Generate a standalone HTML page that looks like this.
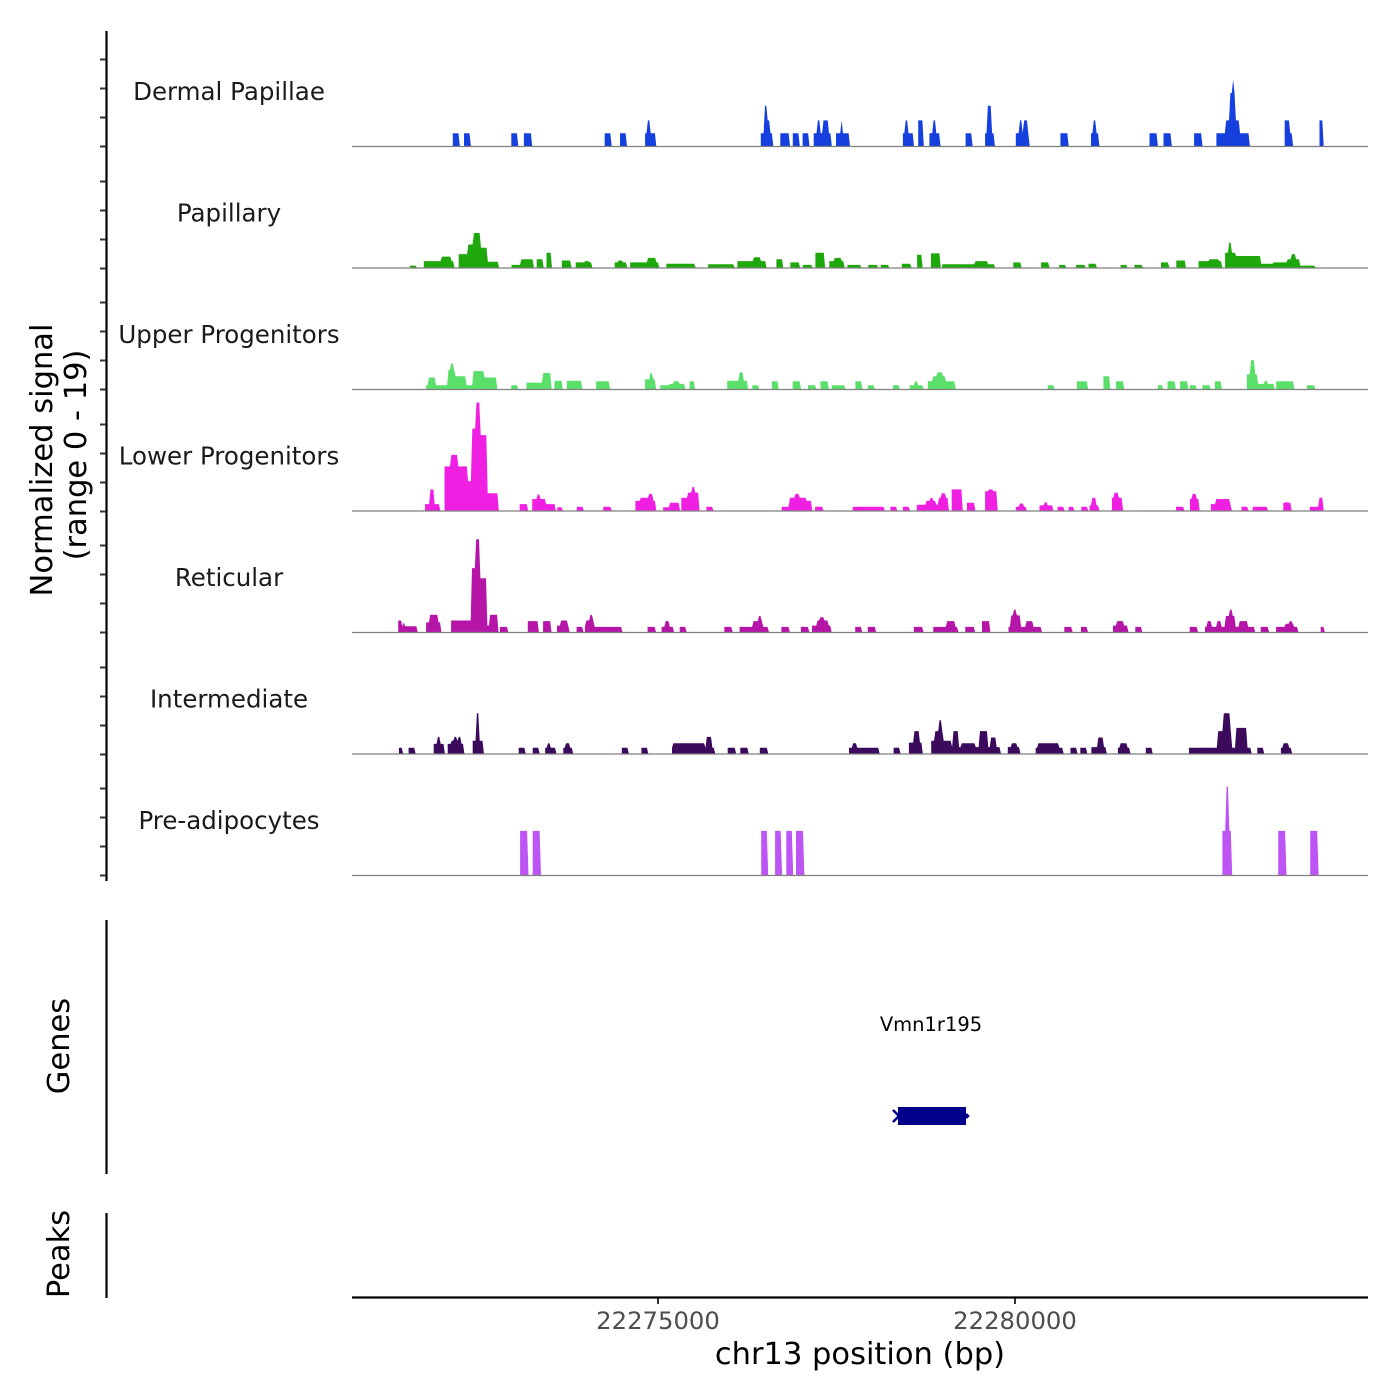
<!DOCTYPE html>
<html><head><meta charset="utf-8"><style>
html,body{margin:0;padding:0;background:#fff}
svg{display:block;font-family:"DejaVu Sans","Liberation Sans",sans-serif}
</style></head><body>
<svg id="chart" width="1400" height="1400" viewBox="0 0 1400 1400" xmlns="http://www.w3.org/2000/svg">
<g id="axes"></g>
<g id="tracks"></g>
<g id="genes">
  <text x="931" y="1031" font-size="19.5" text-anchor="middle" fill="#000">Vmn1r195</text>
  <rect x="898" y="1107" width="68" height="18" fill="#00008B"/>
  <path d="M893 1110 L899 1116 L893 1122 M966 1114 L968 1116 L966 1118" stroke="#00008B" stroke-width="2.5" fill="none"/>
</g>
<text transform="translate(52,460) rotate(-90)" font-size="30.5" text-anchor="middle" fill="#000">Normalized signal</text>
<text transform="translate(86,455) rotate(-90)" font-size="30.5" text-anchor="middle" fill="#000">(range 0 - 19)</text>
<text transform="translate(69,1046) rotate(-90)" font-size="30.5" text-anchor="middle" fill="#000">Genes</text>
<text transform="translate(69,1254) rotate(-90)" font-size="30.5" text-anchor="middle" fill="#000">Peaks</text>
<line x1="106.5" y1="920" x2="106.5" y2="1174" stroke="#000" stroke-width="2.2"/>
<line x1="106.5" y1="1213" x2="106.5" y2="1298" stroke="#000" stroke-width="2.2"/>
<line x1="352" y1="1297.5" x2="1368" y2="1297.5" stroke="#000" stroke-width="2.2"/>
<text x="860" y="1364" font-size="30.5" text-anchor="middle" fill="#000">chr13 position (bp)</text>
</svg>
<script>
// ---- data ----
const regionStart = 22270688;           // bp at bin 0
const binSizeBp = 1.9516;               // bp per coverage bin
const xTickValues = [22275000, 22280000];
const xTickLabels = ["22275000", "22280000"];
const trackNames = ["Dermal Papillae","Papillary","Upper Progenitors","Lower Progenitors","Reticular","Intermediate","Pre-adipocytes"];
const trackColors = ["#1540DD","#1FA80B","#5ADF6A","#F020E2","#B516A8","#3B0A5C","#BD55F4"];
const yTickValues = [0, 5, 10, 15];
// blocks: [startBin, endBin, signal]
const dermalPapillae = [[737,784,2],[817,863,2],[1153,1204,2],[1246,1297,2],[1820,1867,2],[1937,1983,2],[2109,2193,2],[2137,2156,4],[2940,3033,2],[2968,3010,4],[2975,2996,6.3],[3080,3150,2],[3169,3220,2],[3239,3295,2],[3327,3453,2],[3351,3369,4],[3393,3430,4],[3486,3584,2],[3523,3533,4],[3967,4037,2],[3985,3999,4],[4069,4116,4],[4153,4228,2],[4181,4200,4],[4410,4457,2],[4550,4620,2],[4573,4601,6.3],[4769,4872,2],[4807,4821,4],[4830,4858,4],[5096,5147,2],[5311,5376,2],[5329,5348,4],[5731,5787,2],[5833,5889,2],[6057,6114,2],[6216,6454,2],[6286,6384,4],[6314,6356,8.3],[6333,6345,10.4],[6701,6757,2],[6706,6739,4],[6953,6977,4]];
const papillary = [[429,476,0.3],[523,747,1.0],[653,723,1.7],[770,840,2.1],[840,887,3.6],[887,933,5.4],[933,980,3.1],[980,1064,0.9],[1157,1223,0.4],[1223,1316,1.3],[1335,1381,1.3],[1400,1447,2.3],[1517,1587,1.1],[1610,1736,0.8],[1689,1717,1.0],[1890,1983,0.8],[1923,1951,1.1],[2007,2217,0.8],[2137,2193,1.5],[2263,2473,0.6],[2567,2753,0.5],[2777,2987,1.0],[2893,2940,1.6],[3057,3103,1.3],[3150,3220,0.8],[3243,3313,0.4],[3337,3407,2.3],[3430,3547,1.0],[3477,3523,1.5],[3561,3663,0.4],[3719,3780,0.4],[3803,3864,0.4],[3957,4023,0.6],[4060,4107,2.0],[4167,4237,2.2],[4247,4620,0.5],[4480,4573,1.0],[4751,4816,0.8],[4956,5017,0.8],[5087,5133,0.4],[5203,5273,0.4],[5297,5357,0.6],[5521,5577,0.4],[5623,5684,0.4],[5810,5871,0.8],[5927,5997,1.1],[6081,6253,1.0],[6160,6230,1.3],[6277,6356,2.3],[6300,6328,3.9],[6356,6533,1.8],[6533,6627,0.6],[6627,6720,0.8],[6720,6813,1.3],[6758,6781,2.1],[6813,6921,0.3]];
const upperProgenitors = [[546,700,0.6],[560,607,1.8],[700,747,3.0],[723,737,4.0],[747,831,2.0],[831,877,0.6],[877,957,2.8],[957,1050,1.8],[1153,1199,0.6],[1260,1377,1.0],[1381,1437,2.5],[1461,1517,1.3],[1549,1610,1.3],[1610,1661,1.3],[1764,1857,1.2],[2114,2193,1.5],[2147,2170,2.5],[2217,2287,0.6],[2296,2403,0.8],[2324,2357,1.2],[2427,2473,1.2],[2697,2847,1.3],[2791,2824,2.6],[2879,2931,0.6],[3024,3071,1.2],[3173,3229,1.2],[3281,3337,0.6],[3369,3430,1.2],[3453,3547,0.6],[3617,3673,1.2],[3710,3757,0.6],[3887,3944,0.6],[4013,4107,0.6],[4051,4070,1.2],[4144,4340,1.2],[4177,4270,2.0],[4214,4247,2.6],[5003,5054,0.6],[5213,5288,1.2],[5400,5451,2.0],[5493,5553,1.2],[5787,5833,0.6],[5861,5918,1.2],[5955,6011,1.2],[6020,6067,0.6],[6114,6170,0.6],[6198,6253,1.2],[6431,6510,2.3],[6464,6487,4.5],[6510,6627,0.8],[6557,6580,1.3],[6641,6767,1.2],[6860,6921,0.6]];
const lowerProgenitors = [[537,639,1.0],[572,597,3.3],[677,840,6.9],[677,700,3.5],[723,770,8.7],[840,877,4.6],[877,901,12.8],[901,933,16.9],[933,980,11.8],[980,1064,2.7],[1213,1269,1.0],[1307,1400,1.8],[1344,1363,2.5],[1400,1470,1.0],[1479,1517,0.5],[1619,1671,0.6],[1811,1867,0.6],[2039,2193,1.5],[2086,2170,2.0],[2147,2170,2.6],[2240,2287,0.5],[2296,2357,1.2],[2371,2427,2.0],[2427,2506,2.8],[2450,2473,3.7],[2553,2600,0.6],[3090,3150,0.6],[3150,3267,2.0],[3192,3220,2.6],[3267,3313,1.5],[3337,3393,0.6],[3607,3771,0.6],[3771,3827,0.6],[3873,3920,0.6],[3967,4013,0.6],[4060,4224,0.9],[4130,4200,1.5],[4167,4186,2.0],[4224,4294,2.0],[4247,4270,2.7],[4317,4387,3.3],[4424,4480,1.2],[4550,4644,3.0],[4587,4611,3.3],[4774,4854,0.6],[4807,4830,1.1],[4947,5040,0.8],[4984,5003,1.3],[5073,5119,0.6],[5148,5194,0.6],[5241,5288,0.6],[5306,5367,0.8],[5325,5353,2.0],[5460,5540,2.0],[5484,5507,2.8],[5927,5983,0.6],[6020,6090,1.8],[6043,6067,2.6],[6170,6323,1.0],[6216,6310,1.8],[6394,6440,0.6],[6473,6580,0.6],[6688,6753,1.2],[6711,6730,1.3],[6884,6953,0.6],[6953,6977,2.0]];
const reticular = [[345,373,1.8],[373,481,0.9],[378,390,1.5],[537,653,1.5],[569,630,2.7],[723,793,1.8],[793,873,1.8],[873,896,10],[896,933,14.5],[933,980,8.4],[980,1003,1.0],[1003,1064,2.7],[1073,1129,0.8],[1274,1353,1.7],[1377,1437,1.7],[1479,1573,1.0],[1507,1563,1.8],[1619,1666,0.8],[1680,1946,0.8],[1689,1750,1.8],[1717,1736,2.7],[2133,2193,0.8],[2231,2319,0.8],[2263,2287,1.7],[2357,2413,0.8],[2683,2739,0.8],[2786,2996,0.8],[2893,2963,1.7],[2931,2950,2.5],[3090,3146,0.8],[3229,3290,0.8],[3313,3453,1.0],[3351,3430,1.8],[3374,3397,2.3],[3617,3673,0.8],[3710,3771,0.8],[4037,4107,0.8],[4177,4364,0.8],[4284,4340,1.7],[4410,4480,0.8],[4527,4587,1.7],[4723,4961,0.8],[4737,4807,2.6],[4760,4783,3.5],[4854,4900,1.7],[5124,5180,0.8],[5236,5288,0.8],[5474,5577,1.0],[5498,5553,1.7],[5633,5684,0.8],[6020,6076,0.8],[6128,6487,0.8],[6146,6184,1.7],[6221,6253,1.7],[6277,6347,2.5],[6310,6328,3.5],[6384,6440,1.7],[6533,6594,0.8],[6641,6804,0.8],[6711,6767,1.3],[6744,6758,1.7],[6963,6986,0.8]];
const intermediate = [[350,373,0.9],[420,467,0.9],[593,677,1.5],[621,644,2.6],[691,817,1.5],[723,793,2.0],[747,761,2.6],[779,793,2.6],[873,957,2.0],[901,924,6.3],[1204,1251,0.9],[1307,1353,0.9],[1391,1470,0.9],[1414,1437,1.6],[1526,1596,0.9],[1549,1573,1.6],[1946,1993,0.9],[2081,2137,0.9],[2301,2613,0.9],[2320,2543,1.6],[2557,2590,2.6],[2707,2763,0.9],[2800,2856,0.9],[2931,2996,0.9],[3579,3790,0.9],[3603,3631,1.6],[3897,3943,0.9],[4004,4107,1.7],[4042,4088,3.5],[4167,4317,2.0],[4200,4256,3.5],[4224,4242,5.2],[4317,4667,1.0],[4326,4364,3.5],[4387,4480,1.6],[4517,4573,3.5],[4597,4630,2.5],[4714,4807,1.0],[4746,4783,1.6],[4914,5119,0.9],[4937,5087,1.6],[5166,5218,0.9],[5236,5283,0.9],[5311,5427,1.0],[5367,5404,2.5],[5507,5591,0.9],[5530,5577,1.6],[5703,5750,0.9],[6020,6464,0.9],[6230,6328,3.5],[6268,6310,6.3],[6356,6431,4.0],[6501,6557,0.9],[6674,6758,0.9],[6697,6735,1.6]];
const preAdipocytes = [[1220,1270,6.9],[1306,1363,6.9],[2941,2999,6.9],[3042,3092,6.9],[3121,3171,6.9],[3192,3257,6.9],[6256,6327,6.9],[6284,6306,13.8],[6657,6715,6.9],[6887,6944,6.9]];
const trackData = [dermalPapillae, papillary, upperProgenitors, lowerProgenitors, reticular, intermediate, preAdipocytes];

// ---- layout / scales ----
const NS = "http://www.w3.org/2000/svg";
const plotLeft = 352, plotRight = 1368;
const pxPerBp = 357 / 5000;
const refPx = 658, refBp = 22275000;
function xScale(bp){ return refPx + (bp - refBp) * pxPerBp; }
function binToBp(b){ return regionStart + b * binSizeBp; }
const firstBaseline = 146, trackPitch = 121.5;
const pxPerUnit = 6.39;       // signal units -> px
const tickPxPerUnit = 29 / 5;
function baselineOf(i){ return firstBaseline + i * trackPitch; }
function yScale(i, v){ return baselineOf(i) - v * pxPerUnit; }

const axes = document.getElementById('axes');
const tracksG = document.getElementById('tracks');
function mk(tag, attrs, parent){ const e = document.createElementNS(NS, tag); for (const k in attrs) e.setAttribute(k, attrs[k]); parent.appendChild(e); return e; }

const yAxis = mk('line', {x1:106.5, y1:31, x2:106.5, y2:881, stroke:'#000', 'stroke-width':2.2}, axes);



trackNames.forEach((name, i) => {
  const base = baselineOf(i);
  yTickValues.forEach(v => {
    const y = Math.round(base - v * tickPxPerUnit) + 0.5;
    const t = mk('line', {x1:100, y1:y, x2:106, y2:y, stroke:'#333', 'stroke-width':2}, axes);
    
    
  });
  const lab = mk('text', {x:229, y:base - 46, 'font-size':24.5, 'text-anchor':'middle', fill:'#1a1a1a'}, tracksG);
  lab.textContent = name;
  
  
  const blocks = trackData[i];
  let minB = Infinity, maxB = -Infinity;
  blocks.forEach(b => { minB = Math.min(minB, b[0]); maxB = Math.max(maxB, b[1]); });
  const step = 10;
  function val(bin){ let m = 0; for (const b of blocks) if (bin >= b[0] && bin <= b[1] && b[2] > m) m = b[2]; return m; }
  let d = '';
  let open = false;
  for (let bin = minB - step; bin <= maxB + step; bin += step) {
    const v = val(bin);
    const x = xScale(binToBp(bin)).toFixed(1);
    if (v > 0) {
      if (!open) { d += 'M' + x + ' ' + base + ' '; open = true; }
      d += 'L' + x + ' ' + yScale(i, v).toFixed(1) + ' ';
    } else if (open) {
      d += 'L' + x + ' ' + base + ' Z '; open = false;
    }
  }
  const area = mk('path', {d:d, fill:trackColors[i], stroke:'none'}, tracksG);
  
  
  const bl = mk('line', {x1:plotLeft, y1:base + 0.5, x2:plotRight, y2:base + 0.5, stroke:'#7f7f7f', 'stroke-width':1.2}, tracksG);
  
  
});

xTickValues.forEach((v, k) => {
  const x = xScale(v);
  const t = mk('line', {x1:x, y1:1297, x2:x, y2:1304, stroke:'#333', 'stroke-width':2}, axes);
  
  
  const l = mk('text', {x:x, y:1329, 'font-size':24.3, 'text-anchor':'middle', fill:'#4d4d4d'}, axes);
  l.textContent = xTickLabels[k];
  
  
});
</script>
</body></html>
